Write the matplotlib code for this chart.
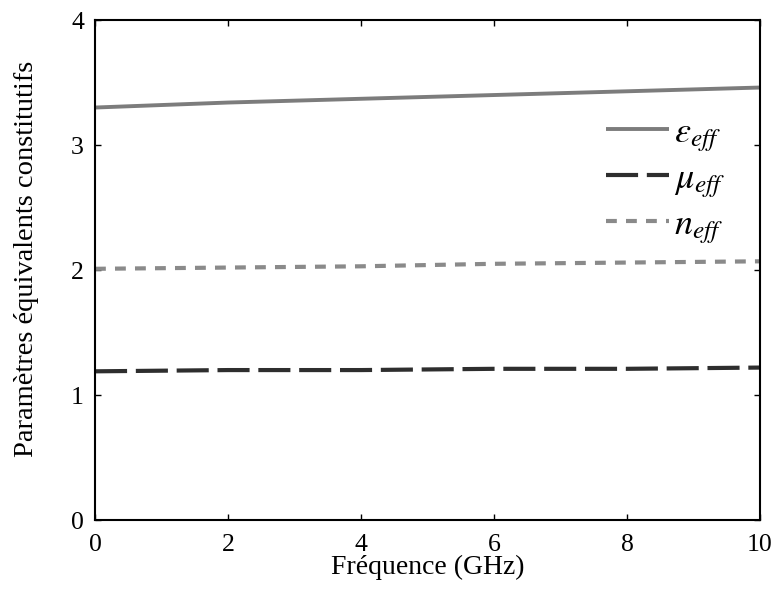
import matplotlib
matplotlib.use("Agg")
import matplotlib.pyplot as plt

freq = [0, 2, 4, 6, 8, 10]
eps_eff = [3.30, 3.34, 3.37, 3.40, 3.43, 3.46]
mu_eff = [1.19, 1.20, 1.20, 1.21, 1.21, 1.22]
n_eff = [2.01, 2.02, 2.03, 2.05, 2.06, 2.07]

xticks = [0, 2, 4, 6, 8, 10]
yticks = [0, 1, 2, 3, 4]

plt.rcParams['font.family'] = ['Liberation Serif', 'DejaVu Serif']
plt.rcParams['mathtext.fontset'] = 'stix'

fig = plt.figure(figsize=(7.73, 5.89), dpi=100)
ax = fig.add_axes([0.1229, 0.117, 0.8603, 0.849])

ax.plot(freq, eps_eff, color='#7c7c7c', lw=2.8, solid_capstyle='butt', label=r'$\varepsilon_{eff}$')
ax.plot(freq, mu_eff, color='#2e2e2e', lw=3.0, dashes=(7.7, 2.1), label=r'$\mu_{eff}$')
ax.plot(freq, n_eff, color='#8a8a8a', lw=3.0, dashes=(2.6, 2.2), label=r'$n_{eff}$')

ax.set_xlim(0, 10)
ax.set_ylim(0, 4)
ax.set_xticks(xticks)
ax.set_yticks(yticks)
ax.tick_params(axis='both', direction='in', length=4, width=1, top=True, right=True, labelsize=18.5)
ax.tick_params(axis='x', pad=10)
ax.tick_params(axis='y', pad=8)
for s in ax.spines.values():
    s.set_linewidth(1.5)
    s.set_color('black')

ax.set_xlabel('Fréquence (GHz)', fontsize=20, labelpad=-1)
ax.set_ylabel('Paramètres équivalents constitutifs', fontsize=20.5)
ax.yaxis.set_label_coords(-0.084, 0.522)

leg = ax.legend(loc='upper right', bbox_to_anchor=(0.97, 0.836), frameon=False,
                fontsize=26, handlelength=1.75, handletextpad=0.15, labelspacing=0.25,
                borderaxespad=0.0)

fig.savefig('out.png', dpi=100)
